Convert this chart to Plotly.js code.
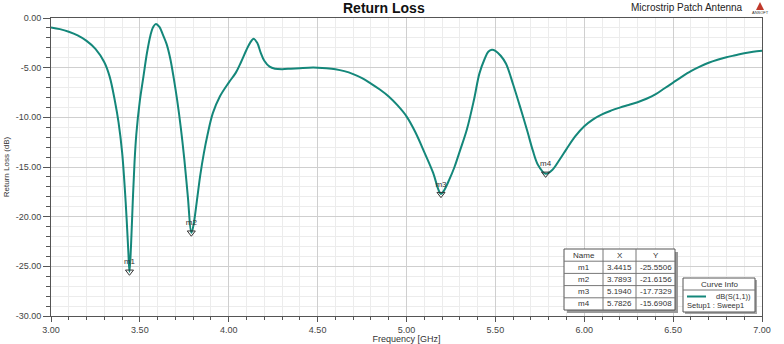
<!DOCTYPE html>
<html>
<head>
<meta charset="utf-8">
<script src="https://cdn.plot.ly/plotly-3.0.1.min.js"></script>
<style>html,body{margin:0;padding:0;background:#fff;}#chart{width:784px;height:344px;}</style>
</head>
<body>
<div id="chart"></div>
<script>
// ---- data ----
const freqGHz = [3.00,3.05,3.10,3.15,3.20,3.25,3.30,3.33,3.36,3.38,3.40,3.42,3.435,3.4415,3.45,3.46,3.47,3.48,3.50,3.52,3.54,3.56,3.575,3.59,3.61,3.63,3.65,3.67,3.69,3.71,3.73,3.75,3.77,3.7893,3.80,3.82,3.84,3.86,3.88,3.91,3.95,4.00,4.04,4.07,4.10,4.12,4.14,4.16,4.18,4.20,4.23,4.26,4.30,4.35,4.40,4.45,4.50,4.55,4.60,4.65,4.70,4.75,4.80,4.85,4.90,4.95,5.00,5.05,5.10,5.15,5.18,5.194,5.21,5.24,5.27,5.30,5.34,5.38,5.41,5.44,5.46,5.48,5.50,5.53,5.56,5.60,5.64,5.68,5.71,5.74,5.7826,5.82,5.86,5.90,5.95,6.00,6.05,6.10,6.15,6.20,6.25,6.30,6.35,6.40,6.45,6.50,6.55,6.60,6.65,6.70,6.75,6.80,6.85,6.90,6.95,7.00];
const returnLossDb = [-0.95,-1.12,-1.38,-1.75,-2.3,-3.1,-4.45,-5.9,-8.4,-10.5,-13.5,-18.5,-23.5,-25.55,-23,-18.5,-14.5,-11.7,-8.3,-5.9,-3.5,-1.7,-0.9,-0.6,-0.9,-1.7,-2.6,-4.0,-6.0,-8.3,-11.0,-14.2,-18.0,-21.62,-21.0,-18.5,-15.8,-13.6,-11.8,-9.6,-7.9,-6.5,-5.5,-4.4,-3.2,-2.5,-2.1,-2.5,-3.5,-4.3,-4.9,-5.1,-5.15,-5.1,-5.05,-5.0,-5.0,-5.05,-5.15,-5.35,-5.65,-6.05,-6.6,-7.2,-7.9,-8.8,-9.9,-11.5,-13.5,-15.6,-17.3,-17.73,-17.4,-16.3,-15.0,-13.4,-11.2,-8.2,-5.6,-4.1,-3.4,-3.2,-3.3,-3.8,-4.6,-6.7,-9.0,-11.4,-13.3,-14.8,-15.69,-15.3,-14.3,-13.2,-11.9,-10.9,-10.2,-9.7,-9.33,-9.02,-8.75,-8.48,-8.13,-7.7,-7.1,-6.5,-5.9,-5.35,-4.9,-4.5,-4.2,-3.95,-3.75,-3.55,-3.4,-3.3];

const markerNames = ["m1","m2","m3","m4"];
const markerX = [3.4415, 3.7893, 5.1940, 5.7826];
const markerY = [-25.5506, -21.6156, -17.7329, -15.6908];

const xTickVals = [3.0,3.5,4.0,4.5,5.0,5.5,6.0,6.5,7.0];
const xTickText = ["3.00","3.50","4.00","4.50","5.00","5.50","6.00","6.50","7.00"];
const yTickVals = [0,-5,-10,-15,-20,-25,-30];
const yTickText = ["0.00","-5.00","-10.00","-15.00","-20.00","-25.00","-30.00"];

const tableHeader = ["Name","X","Y"];
const curveName = "dB(S(1,1))";
const setupName = "Setup1 : Sweep1";

// ---- geometry helpers (pixel -> paper) ----
const L = 51, R = 762, T = 18, B = 316;
const px = v => (v - L) / (R - L);
const py = v => (B - v) / (B - T);

const lineColor = "#14877a";
const font = "Liberation Sans, Arial, sans-serif";

const traces = [
  {x: freqGHz, y: returnLossDb, type: "scatter", mode: "lines",
   line: {color: lineColor, width: 2, shape: "spline", smoothing: 1}, hoverinfo: "x+y"},
  {x: markerX, y: markerY, type: "scatter", mode: "markers+text", text: markerNames,
   textposition: "top center", textfont: {family: font, size: 8, color: "#333"},
   marker: {symbol: "triangle-down-open", size: 7, color: "#333", line: {width: 1}}, cliponaxis: false}
];

const shapes = [];
const annotations = [];

// title etc.
annotations.push({xref: "paper", yref: "paper", x: px(384), y: py(8), text: "<b>Return Loss</b>", showarrow: false,
  font: {family: font, size: 14, color: "#111"}, xanchor: "center", yanchor: "middle"});
annotations.push({xref: "paper", yref: "paper", x: px(745), y: py(8), text: "Microstrip Patch Antenna", showarrow: false,
  font: {family: font, size: 10, color: "#222"}, xanchor: "right", yanchor: "middle"});
// ansoft logo
shapes.push({type: "path", xref: "paper", yref: "paper",
  path: `M ${px(760)} ${py(2)} L ${px(756)} ${py(10)} L ${px(764)} ${py(10)} Z`, fillcolor: "#c0392b", line: {width: 0}});
annotations.push({xref: "paper", yref: "paper", x: px(760), y: py(13), text: "ANSOFT", showarrow: false,
  font: {family: font, size: 4, color: "#333"}, xanchor: "center", yanchor: "middle"});

// marker table
const tx0 = 564, tx1 = 675, ty0 = 249, rowH = 12.2;
const colX = [564, 603, 636, 675];
const nRows = markerNames.length + 1;
const ty1 = ty0 + rowH * nRows;
shapes.push({type: "rect", xref: "paper", yref: "paper", x0: px(tx0 + 3), x1: px(tx1 + 3), y0: py(ty0 + 3), y1: py(ty1 + 3),
  fillcolor: "#9a9a9a", line: {width: 0}});
shapes.push({type: "rect", xref: "paper", yref: "paper", x0: px(tx0), x1: px(tx1), y0: py(ty0), y1: py(ty1),
  fillcolor: "#ffffff", line: {color: "#555", width: 1}});
for (let r = 1; r < nRows; r++) {
  shapes.push({type: "line", xref: "paper", yref: "paper", x0: px(tx0), x1: px(tx1), y0: py(ty0 + r * rowH), y1: py(ty0 + r * rowH),
    line: {color: "#777", width: 1}});
}
for (let c = 1; c < 3; c++) {
  shapes.push({type: "line", xref: "paper", yref: "paper", x0: px(colX[c]), x1: px(colX[c]), y0: py(ty0), y1: py(ty1),
    line: {color: "#777", width: 1}});
}
const cellFont = {family: font, size: 8, color: "#333"};
for (let c = 0; c < 3; c++) {
  annotations.push({xref: "paper", yref: "paper", x: px((colX[c] + colX[c + 1]) / 2), y: py(ty0 + rowH / 2),
    text: tableHeader[c], showarrow: false, font: cellFont, xanchor: "center", yanchor: "middle"});
}
for (let r = 0; r < markerNames.length; r++) {
  const yc = py(ty0 + rowH * (r + 1.5));
  const vals = [markerNames[r], markerX[r].toFixed(4), markerY[r].toFixed(4)];
  for (let c = 0; c < 3; c++) {
    annotations.push({xref: "paper", yref: "paper", x: px((colX[c] + colX[c + 1]) / 2), y: yc,
      text: vals[c], showarrow: false, font: cellFont, xanchor: "center", yanchor: "middle"});
  }
}

// curve info box
const cx0 = 683, cx1 = 755, cy0 = 278, cy1 = 312;
shapes.push({type: "rect", xref: "paper", yref: "paper", x0: px(cx0 + 2), x1: px(cx1 + 2), y0: py(cy0 + 2), y1: py(cy1 + 2),
  fillcolor: "#a5a5a5", line: {width: 0}});
shapes.push({type: "rect", xref: "paper", yref: "paper", x0: px(cx0), x1: px(cx1), y0: py(cy0), y1: py(cy1),
  fillcolor: "#ffffff", line: {color: "#555", width: 1}});
shapes.push({type: "line", xref: "paper", yref: "paper", x0: px(cx0), x1: px(cx1), y0: py(290), y1: py(290),
  line: {color: "#777", width: 1}});
const infoFont = {family: font, size: 7.5, color: "#333"};
annotations.push({xref: "paper", yref: "paper", x: px((cx0 + cx1) / 2), y: py(284.5), text: "Curve Info", showarrow: false,
  font: cellFont, xanchor: "center", yanchor: "middle"});
shapes.push({type: "line", xref: "paper", yref: "paper", x0: px(687), x1: px(706), y0: py(296.5), y1: py(296.5),
  line: {color: lineColor, width: 2}});
annotations.push({xref: "paper", yref: "paper", x: px(753), y: py(296.5), text: curveName, showarrow: false,
  font: infoFont, xanchor: "right", yanchor: "middle"});
annotations.push({xref: "paper", yref: "paper", x: px(685), y: py(305.5), text: setupName, showarrow: false,
  font: infoFont, xanchor: "left", yanchor: "middle"});

const layout = {
  width: 784, height: 344,
  margin: {l: L, r: 784 - R, t: T, b: 344 - B, pad: 0},
  paper_bgcolor: "#ffffff", plot_bgcolor: "#ffffff",
  showlegend: false,
  font: {family: font, size: 9, color: "#444"},
  xaxis: {
    range: [3, 7], tickvals: xTickVals, ticktext: xTickText,
    ticks: "outside", ticklen: 5, tickcolor: "#555", tickfont: {family: font, size: 9, color: "#444"},
    showgrid: true, gridcolor: "#cfcfcf", gridwidth: 1,
    minor: {dtick: 0.1, showgrid: true, gridcolor: "#ececec", ticks: "outside", ticklen: 3, tickcolor: "#555"},
    showline: true, linecolor: "#555", linewidth: 1, mirror: true, zeroline: false,
    title: {text: "Frequency [GHz]", font: {family: font, size: 9, color: "#333"}, standoff: 0}
  },
  yaxis: {
    range: [-30, 0], tickvals: yTickVals, ticktext: yTickText,
    ticks: "outside", ticklen: 7, tickcolor: "#555", tickfont: {family: font, size: 9, color: "#444"},
    showgrid: true, gridcolor: "#cfcfcf", gridwidth: 1,
    minor: {dtick: 1, showgrid: true, gridcolor: "#ececec", ticks: "outside", ticklen: 4, tickcolor: "#555"},
    showline: true, linecolor: "#555", linewidth: 1, mirror: true, zeroline: false,
    title: {text: "Return Loss (dB)", font: {family: font, size: 8, color: "#333"}, standoff: 4}
  },
  shapes: shapes,
  annotations: annotations
};

Plotly.newPlot("chart", traces, layout, {displayModeBar: false, staticPlot: true});
</script>
</body>
</html>
